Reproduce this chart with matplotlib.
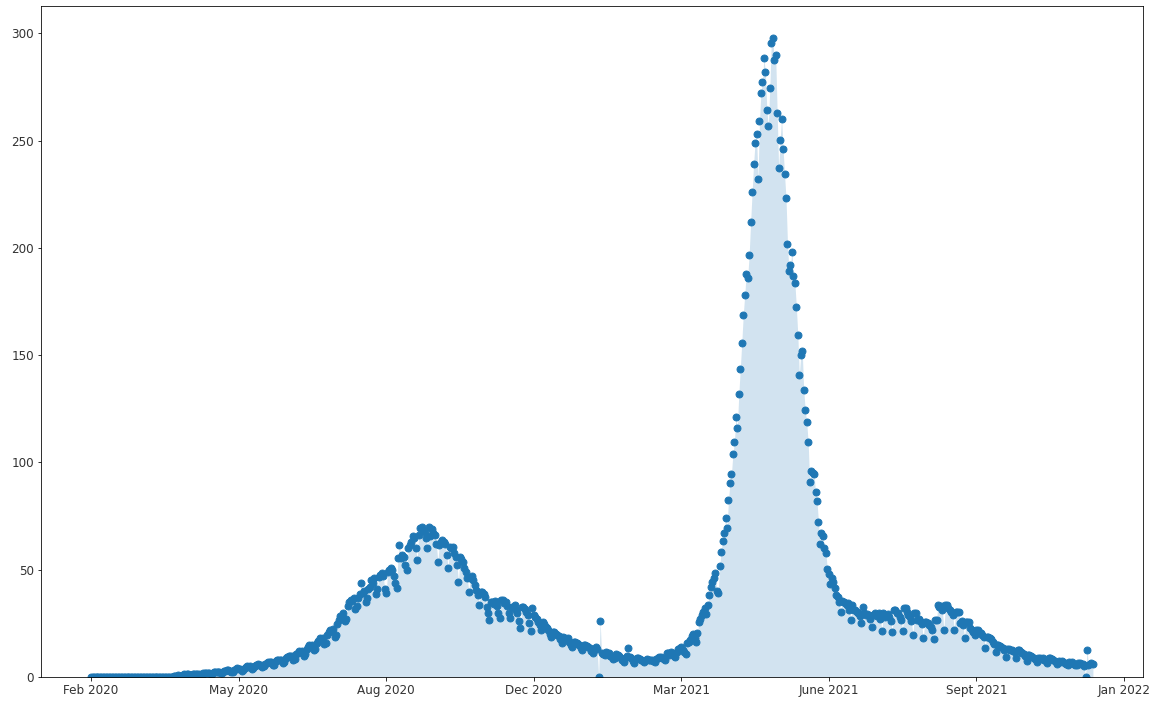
import matplotlib

matplotlib.use("Agg")
import matplotlib.pyplot as plt
import numpy as np

# daily values, roughly one row per week, day 0 = 1 Feb 2020
early_values = [
    0, 0, 0, 0, 0, 0, 0,
    0, 0, 0, 0, 0, 0,
    0, 0, 0, 0, 0, 0, 0,
    0, 0, 0, 0, 0, 0, 0,
    0, 0, 0, 0, 0, 0, 0,
    0, 0, 0, 0, 0, 0, 0,
    0, 0, 0, 0.1, 0, 0, 0.1,
    0.1, 0.1, 0.2, 0.1, 0.2, 0.1, 0.2,
    0.2, 0.3, 0.3, 0.5, 0.8, 0.4, 0.6,
    1.0, 1.2, 1.1, 1.4, 1.2, 0.8, 0.9,
    1.3, 1.5, 1.6, 1.4, 1.5, 1.0, 1.1,
    1.7, 1.9, 2.0, 1.8, 1.9, 1.3, 1.5,
    2.1, 2.4, 2.5, 2.3, 2.4, 1.7, 1.9,
    2.8, 3.0, 3.2, 3.1, 3.0, 2.3, 2.5,
]
first_wave = [
    3.4, 3.8, 4.0, 3.8, 3.9, 2.9, 3.2,
    4.3, 4.7, 5.0, 4.8, 4.9, 3.7, 4.0,
    5.2, 5.6, 5.9, 5.7, 5.8, 4.6, 4.9,
    6.2, 6.6, 6.9, 6.8, 6.9, 5.5, 5.8,
    7.3, 7.8, 8.1, 8.0, 8.1, 6.6, 7.0,
    8.7, 9.3, 9.8, 9.6, 9.9, 8.0, 8.5,
    10.6, 11.4, 12.0, 11.8, 12.2, 9.9, 10.5,
    13.0, 14.0, 14.8, 14.5, 15.0, 12.4, 13.0,
    16.0, 17.0, 18.0, 17.6, 18.3, 15.2, 16.0,
    19.5, 20.8, 22.0, 21.6, 22.5, 18.8, 19.8,
    24.5, 26.5, 28.5, 28.0, 30.0, 26.0, 27.0,
    33.0, 35.0, 36.0, 35.5, 37.0, 31.5, 33.0,
    37.0, 38.5, 44.0, 39.0, 40.0, 35.0, 37.0,
    41.0, 42.0, 45.0, 44.0, 46.0, 38.5, 41.0,
    46.5, 47.5, 48.5, 47.0, 41.0, 39.0, 49.0,
    50.0, 51.0, 50.0, 47.0, 43.7, 41.4, 55.4,
    61.6, 55.4, 57.0, 56.1, 52.0, 49.9, 60.0,
    61.5, 63.1, 65.5, 64.7, 60.0, 54.6, 66.0,
    69.4, 70.1, 68.5, 67.8, 65.0, 60.0, 70.1,
    65.5, 69.0, 67.0, 66.0, 62.0, 53.8, 61.6,
    63.0, 64.0, 63.1, 62.0, 57.0, 50.7, 60.8,
    60.0, 60.8, 58.0, 56.1, 52.0, 44.5, 56.1,
    55.0, 53.8, 51.0, 49.1, 46.0, 39.8, 46.0,
    47.0, 45.3, 43.0, 40.6, 38.0, 33.6, 39.8,
    39.8, 38.5, 37.5, 32.8, 30.0, 26.6, 35.1,
    35.1, 34.0, 35.5, 33.0, 30.0, 27.4, 35.9,
    35.9, 34.4, 35.0, 33.0, 30.0, 27.4, 32.8,
    32.8, 33.5, 31.3, 30.0, 26.0, 22.7, 32.8,
    32.8, 31.5, 30.5, 29.0, 25.0, 21.5, 32.0,
    29.0, 28.0, 27.0, 25.5, 24.0, 22.0, 25.8,
    24.5, 23.5, 23.0, 22.0, 20.0, 18.5, 21.1,
    21.1, 20.0, 19.5, 19.0, 17.5, 16.0, 18.5,
    18.0, 17.5, 18.0, 16.5, 15.0, 14.0, 16.5,
    16.5, 16.0, 15.5, 15.0, 13.5, 12.5, 14.9,
    14.9, 14.5, 14.0, 13.5, 12.0, 11.0, 13.0,
]
winter_values = [
    14.1, 13.0, 0.0, 26.1, 11.0, 10.5, 10.3,
    11.5, 11.0, 11.0, 10.0, 9.5, 8.5, 8.7,
    10.5, 10.3, 10.0, 9.0, 8.0, 7.1, 9.0,
    10.0, 13.4, 9.5, 8.7, 7.5, 6.4, 8.5,
    9.0, 8.7, 8.5, 8.0, 7.5, 7.1, 8.0,
    8.5, 7.9, 8.0, 8.0, 7.5, 7.1, 8.5,
    9.0, 9.5, 9.5, 9.0, 8.5, 8.0, 11.0,
    11.0, 10.3, 11.5, 11.0, 10.0, 9.5, 11.8,
    13.0, 13.4, 14.0, 12.6, 11.5, 10.7, 15.7,
]
second_wave = [
    16.5, 17.3, 19.0, 20.0, 18.0, 16.5, 20.4,
    25.8, 27.0, 28.9, 30.5, 32.0, 29.5, 33.6,
    38.3, 41.8, 44.5, 46.0, 48.4, 40.3, 39.0,
    51.5, 58.2, 63.6, 67.0, 73.9, 69.4, 82.6,
    90.4, 94.7, 103.9, 109.5, 121.2, 116.0, 132.0,
    143.6, 155.7, 168.6, 178.0, 187.6, 186.0, 196.6,
    211.8, 225.8, 238.9, 249.0, 252.9, 232.0, 259.0,
    272.3, 277.3, 288.3, 282.0, 264.2, 256.8, 274.3,
    295.6, 297.8, 287.5, 289.7, 263.0, 237.0, 250.2,
    260.2, 246.2, 234.2, 223.0, 201.9, 189.1, 191.9,
    198.0, 186.8, 183.7, 172.5, 159.3, 140.9, 149.9,
    151.8, 133.8, 124.6, 118.8, 109.6, 91.1, 95.8,
    95.0, 94.7, 86.0, 81.8, 72.2, 61.9, 67.3,
    65.5, 60.0, 57.7, 50.4, 48.1, 43.4, 46.0,
    44.2, 41.7, 38.3, 37.5, 35.1, 30.2, 35.5,
]
summer_values = [
    35.1, 34.5, 33.6, 34.4, 31.0, 26.6, 33.6,
    31.3, 31.0, 30.5, 30.0, 28.5, 25.0, 32.8,
    29.7, 29.0, 29.5, 28.9, 27.0, 23.5, 28.9,
    29.7, 29.0, 28.5, 29.7, 27.0, 21.5, 29.7,
    28.1, 29.0, 29.5, 28.1, 26.0, 21.1, 31.3,
    31.3, 29.7, 30.0, 28.0, 26.5, 21.5, 32.0,
    32.0, 30.5, 28.9, 28.0, 26.0, 19.6, 29.7,
    29.7, 26.6, 27.0, 26.0, 24.5, 18.0, 25.8,
    25.8, 25.0, 24.0, 23.5, 21.9, 17.6, 26.6,
    26.6, 33.6, 32.8, 33.0, 31.0, 21.9, 33.6,
    33.6, 32.0, 31.3, 30.5, 29.0, 21.9, 30.5,
    30.5, 30.5, 25.0, 26.0, 24.0, 18.0, 25.8,
    25.8, 25.8, 23.0, 22.0, 21.0, 19.6, 22.0,
]
autumn_values = [
    21.9, 21.0, 20.5, 19.5, 18.5, 13.4, 18.8,
    18.8, 18.0, 17.5, 16.5, 15.5, 11.5, 14.9,
    14.9, 14.5, 14.0, 13.5, 12.6, 9.5, 13.0,
    13.0, 12.6, 12.5, 12.0, 11.5, 8.7, 12.6,
    12.6, 11.5, 11.0, 10.5, 10.0, 7.5, 10.3,
    10.3, 10.0, 9.5, 9.0, 8.5, 7.0, 9.0,
    8.7, 8.5, 8.7, 8.0, 7.5, 6.5, 8.7,
    8.7, 8.5, 8.0, 7.5, 7.0, 6.0, 7.5,
    7.1, 7.5, 7.0, 6.5, 6.0, 5.5, 7.0,
    6.5, 6.8, 6.0, 5.8, 5.5, 6.4,
    6.4, 6.0, 6.2, 5.0, 0.0, 12.6, 5.6,
    6.0, 6.5, 6.0,
]

tick_days = [0, 100, 200, 300, 400, 500, 600, 700]
tick_labels = ["Feb 2020", "May 2020", "Aug 2020", "Dec 2020",
               "Mar 2021", "June 2021", "Sept 2021", "Jan 2022"]


def main() -> None:
    values = np.array(early_values + first_wave + winter_values
                      + second_wave + summer_values + autumn_values)
    days = np.arange(len(values))

    fig = plt.figure(figsize=(1158 / 72, 704 / 72), dpi=72)
    ax = fig.add_axes([41 / 1158, 27 / 704, 1102 / 1158, 671 / 704])
    ax.fill_between(days, values, color="#1f77b4", alpha=0.2, linewidth=0)
    ax.scatter(days, values, s=48, color="#1f77b4")
    ax.set_ylim(bottom=0)
    ax.set_xticks(tick_days)
    ax.set_xticklabels(tick_labels)
    ax.tick_params(labelsize=12, labelcolor="#333333")
    fig.savefig("out.png", dpi=72)
    plt.close(fig)


if __name__ == "__main__":
    main()
